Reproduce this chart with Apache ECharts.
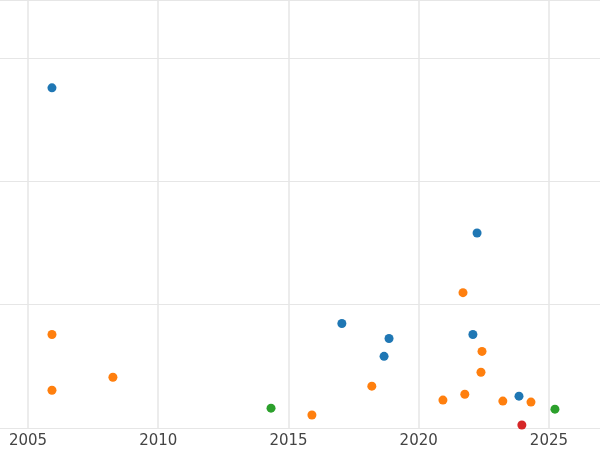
<!DOCTYPE html><html><head><meta charset="utf-8"><script src="https://cdn.jsdelivr.net/npm/echarts@6/dist/echarts.min.js"></script></head><body style="margin:0"><div id="c" style="width:600px;height:450px"></div><script>
const xTicks=[2005,2010,2015,2020,2025];
const blue=[[2005.92,2.758],[2022.24,1.581],[2017.05,0.847],[2018.86,0.726],[2018.67,0.581],[2022.08,0.758],[2023.85,0.258]];
const orange=[[2005.92,0.758],[2005.92,0.306],[2008.26,0.411],[2021.70,1.097],[2022.43,0.621],[2022.39,0.452],[2018.20,0.339],[2020.93,0.226],[2021.77,0.274],[2023.23,0.218],[2024.31,0.210],[2015.90,0.105]];
const green=[[2014.33,0.161],[2025.23,0.153]];
const red=[[2023.96,0.024]];
const ch=echarts.init(document.getElementById('c'));
const s=(d,c)=>({type:'scatter',data:d,symbolSize:9,itemStyle:{color:c,opacity:1},clip:false});
const first=s(blue,'#1f77b4');
first.markLine={silent:true,symbol:'none',label:{show:false},lineStyle:{color:'#e6e6e6',type:'solid',width:1.5},data:xTicks.map(v=>({xAxis:v}))};
ch.setOption({animation:false,grid:{left:0,right:0,top:-3,bottom:22},
xAxis:{type:'value',min:2003.925,max:2026.96,axisLine:{show:false},axisTick:{show:false},splitLine:{show:false},
axisLabel:{customValues:xTicks,formatter:v=>String(v),color:'#444',fontSize:15,fontFamily:'DejaVu Sans',margin:6}},
yAxis:{type:'value',min:0,max:3.47,interval:1,axisLabel:{show:false},axisLine:{show:false},axisTick:{show:false},splitLine:{lineStyle:{color:'#e6e6e6',width:1}}},
series:[first,s(orange,'#ff7f0e'),s(green,'#2ca02c'),s(red,'#d62728')]});
</script></body></html>
